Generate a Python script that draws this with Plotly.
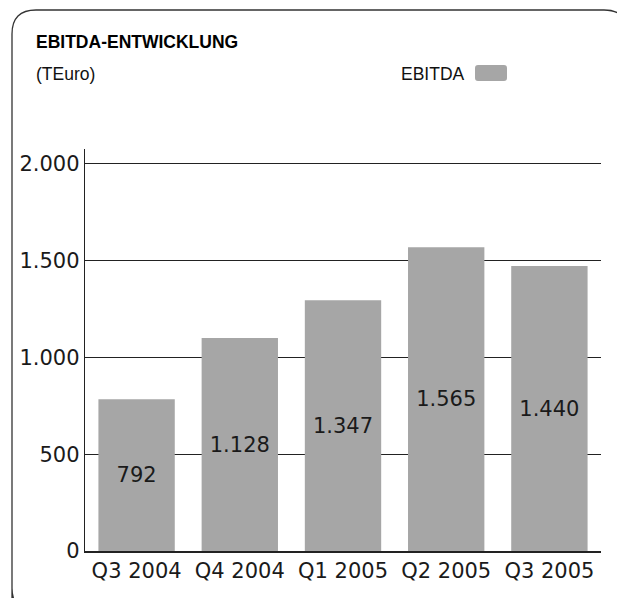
import plotly.graph_objects as go

categories = ["Q3 2004", "Q4 2004", "Q1 2005", "Q2 2005", "Q3 2005"]
bar_heights = [784, 1100, 1295, 1570, 1472]
value_labels = ["792", "1.128", "1.347", "1.565", "1.440"]
y_tickvals = [0, 500, 1000, 1500, 2000]
y_ticktext = ["0", "500", "1.000", "1.500", "2.000"]

W, H = 617, 598
L, R, T, B = 85, 16, 149, 47
PW, PH = W - L - R, H - T - B


def px(x):
    return (x - L) / PW


def py(y):
    return (H - B - y) / PH


BAR_COLOR = "#a6a6a6"
NUM_FONT = dict(family="DejaVu Sans", size=21, color="#1a1a1a")
HEAD = "Liberation Sans, Arial, sans-serif"

fig = go.Figure(
    go.Bar(
        x=categories,
        y=bar_heights,
        text=value_labels,
        textposition="inside",
        insidetextanchor="middle",
        textangle=0,
        textfont=NUM_FONT,
        marker=dict(color=BAR_COLOR, line=dict(width=0)),
        width=0.74,
        hoverinfo="skip",
        name="EBITDA",
    )
)


def rounded_path(x0, y0, x1, y1, r):
    # pixel coords, y down
    pts = [
        f"M {px(x0)},{py(y1)}",
        f"L {px(x0)},{py(y0 + r)}",
        f"Q {px(x0)},{py(y0)} {px(x0 + r)},{py(y0)}",
        f"L {px(x1 - r)},{py(y0)}",
        f"Q {px(x1)},{py(y0)} {px(x1)},{py(y0 + r)}",
        f"L {px(x1)},{py(y1 - r)}",
        f"Q {px(x1)},{py(y1)} {px(x1 - r)},{py(y1)}",
        f"L {px(x0 + r)},{py(y1)}",
        f"Q {px(x0)},{py(y1)} {px(x0)},{py(y1 - r)}",
        "Z",
    ]
    return " ".join(pts)


shapes = [
    dict(type="path", xref="paper", yref="paper",
         path=rounded_path(12, 10, 628, 612, 24),
         line=dict(color="#333333", width=1.3), layer="below"),
    dict(type="path", xref="paper", yref="paper",
         path=rounded_path(475, 65, 507, 81, 3),
         fillcolor=BAR_COLOR, line=dict(width=0)),
]

annotations = [
    dict(text="<b>EBITDA-ENTWICKLUNG</b>", xref="paper", yref="paper",
         x=px(34), y=py(42), xanchor="left", yanchor="middle", showarrow=False,
         font=dict(family=HEAD, size=17.5, color="#000")),
    dict(text="(TEuro)", xref="paper", yref="paper",
         x=px(34), y=py(74), xanchor="left", yanchor="middle", showarrow=False,
         font=dict(family=HEAD, size=17.5, color="#111")),
    dict(text="EBITDA", xref="paper", yref="paper",
         x=px(467), y=py(74), xanchor="right", yanchor="middle", showarrow=False,
         font=dict(family=HEAD, size=17.5, color="#111")),
]

fig.update_layout(
    width=W, height=H,
    margin=dict(l=L, r=R, t=T, b=B, pad=0),
    paper_bgcolor="white", plot_bgcolor="white",
    showlegend=False,
    bargap=0.26,
    shapes=shapes,
    annotations=annotations,
    uniformtext=dict(mode=False),
)
fig.update_xaxes(
    showgrid=False, showline=True, linecolor="#222", linewidth=2,
    ticks="", tickfont=NUM_FONT, fixedrange=True,
)
fig.update_yaxes(
    range=[0, 2077], tickvals=y_tickvals, ticktext=y_ticktext,
    showgrid=True, gridcolor="#222", gridwidth=1.4,
    showline=True, linecolor="#222", linewidth=1.4,
    zeroline=False, ticks="", tickfont=NUM_FONT, fixedrange=True,
)

fig.write_html("out.html", config=dict(displayModeBar=False))
